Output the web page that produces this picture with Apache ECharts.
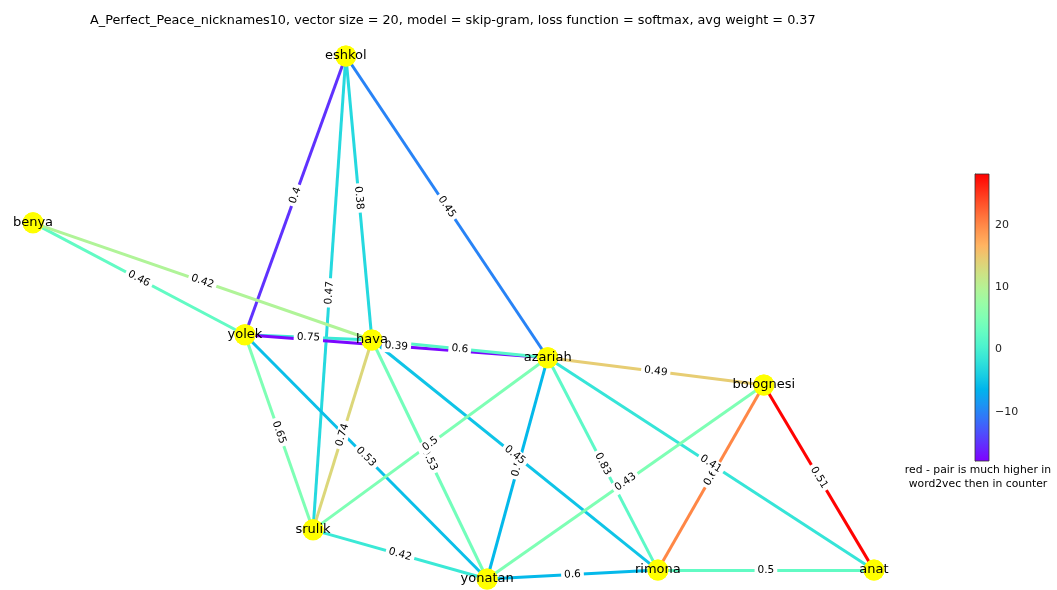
<!DOCTYPE html>
<html>
<head>
<meta charset="utf-8">
<script src="https://cdn.jsdelivr.net/npm/echarts@6/dist/echarts.min.js"></script>
<style>html,body{margin:0;padding:0;background:#fff;}#c{width:1057px;height:590px;}</style>
</head>
<body>
<div id="c"></div>
<script>
// ---- data ----
const nodeNames = ['eshkol','benya','yolek','hava','azariah','bolognesi','srulik','yonatan','rimona','anat'];
const nodeX = [0.372, 0.0, 0.252, 0.403, 0.612, 0.869, 0.333, 0.540, 0.743, 1.0];
const nodeY = [1.0, 0.681, 0.467, 0.457, 0.423, 0.371, 0.094, 0.0, 0.017, 0.017];

const edgeSource = ['eshkol','eshkol','eshkol','eshkol','benya','benya','yolek','yolek','yolek','yolek','hava','hava','azariah','hava','hava','bolognesi','azariah','azariah','azariah','azariah','bolognesi','bolognesi','srulik','yonatan','rimona'];
const edgeTarget = ['yolek','srulik','hava','azariah','yolek','hava','hava','azariah','srulik','yonatan','azariah','srulik','yonatan','yonatan','rimona','rimona','srulik','rimona','anat','bolognesi','yonatan','anat','yonatan','rimona','anat'];
const edgeWeight = ['0.4','0.47','0.38','0.45','0.46','0.42','0.75','0.39','0.65','0.53','0.6','0.74','0.5','0.53','0.45','0.6','0.5','0.83','0.41','0.49','0.43','0.51','0.42','0.6','0.5'];
const edgeDiff = [-15, -3, -3, -10, 2.5, 9.5, -1, -17.5, 5, -5.5, 1.5, 13.5, -6, 4, -5, 20, 5, 2, -1.5, 14.5, 5, 28, -1, -6, 2.5];

const colorMin = -17.9, colorMax = 28.2;
const colorTicks = [-10, 0, 10, 20];
const titleText = 'A_Perfect_Peace_nicknames10, vector size = 20, model = skip-gram, loss function = softmax, avg weight = 0.37';
const captionText = 'red - pair is much higher in\nword2vec then in counter';

// ---- colormap (matplotlib rainbow) ----
function rainbow(t){
  t = Math.max(0, Math.min(1, t));
  const c = v => Math.round(Math.max(0, Math.min(1, v)) * 255);
  return 'rgb(' + c(Math.abs(2*t-0.5)) + ',' + c(Math.sin(Math.PI*t)) + ',' + c(Math.cos(Math.PI*t/2)) + ')';
}
function valColor(v){ return rainbow((v - colorMin) / (colorMax - colorMin)); }

const nodes = nodeNames.map((n,i) => ({name: n, value: [nodeX[i], nodeY[i]]}));
const links = edgeSource.map((s,i) => ({
  source: s, target: edgeTarget[i], label: edgeWeight[i],
  lineStyle: {color: valColor(edgeDiff[i])}
}));

const gradStops = [];
for (let i = 0; i <= 20; i++) gradStops.push({offset: i/20, color: rainbow(1 - i/20)});

const chart = echarts.init(document.getElementById('c'), null, {renderer: 'canvas'});
chart.setOption({
  animation: false,
  backgroundColor: '#fff',
  textStyle: {fontFamily: 'DejaVu Sans'},
  title: [
    {text: titleText, left: 85, top: 9, textStyle: {fontSize: 12.8, fontWeight: 'normal', color: '#000', fontFamily: 'DejaVu Sans'}}
  ],
  graphic: [
    {type: 'text', x: 978, y: 463, silent: true,
     style: {text: captionText, align: 'center', verticalAlign: 'top', fontSize: 10.8, lineHeight: 14, fill: '#000', fontFamily: 'DejaVu Sans'}}
  ],
  grid: [
    {left: 33, right: 183, top: 56, bottom: 11},
    {left: 975, width: 14, top: 174, height: 287}
  ],
  xAxis: [
    {gridIndex: 0, type: 'value', min: 0, max: 1, show: false},
    {gridIndex: 1, type: 'value', min: 0, max: 1, show: false}
  ],
  yAxis: [
    {gridIndex: 0, type: 'value', min: 0, max: 1, show: false},
    {gridIndex: 1, type: 'value', min: colorMin, max: colorMax, position: 'right',
     axisLine: {show: true, lineStyle: {color: '#333', width: 0.8}},
     axisTick: {show: true, length: 4, customValues: colorTicks, lineStyle: {color: '#333'}},
     axisLabel: {show: true, customValues: colorTicks, fontSize: 11, color: '#222', margin: 6,
       formatter: v => (v < 0 ? '\u2212' + Math.abs(v) : String(v))},
     splitLine: {show: false}}
  ],
  series: [
    {
      type: 'custom', xAxisIndex: 1, yAxisIndex: 1, silent: true, z: 1,
      data: [[0, colorMin]],
      renderItem: function(params, api){
        const p1 = api.coord([0, colorMax]);
        const p2 = api.coord([1, colorMin]);
        return {type: 'rect', shape: {x: p1[0], y: p1[1], width: p2[0]-p1[0], height: p2[1]-p1[1]},
          style: {fill: new echarts.graphic.LinearGradient(0,0,0,1, gradStops), stroke: '#333', lineWidth: 0.8}};
      }
    },
    {
      type: 'graph', coordinateSystem: 'cartesian2d', xAxisIndex: 0, yAxisIndex: 0,
      silent: true, z: 2,
      symbol: 'circle', symbolSize: 21,
      itemStyle: {color: '#ffff00'},
      label: {show: false},
      lineStyle: {width: 3, opacity: 1},
      edgeLabel: {show: true, position: 'middle', distance: 0, verticalAlign: 'middle',
        formatter: p => p.data.label, fontSize: 10.5, color: '#000', fontFamily: 'DejaVu Sans',
        backgroundColor: '#fff', padding: [1, 3]},
      emphasis: {disabled: true},
      data: nodes,
      links: links
    },
    {
      type: 'scatter', xAxisIndex: 0, yAxisIndex: 0, silent: true, z: 5,
      symbol: 'circle', symbolSize: 21,
      itemStyle: {color: '#ffff00', opacity: 1},
      label: {show: true, position: 'inside', color: '#000', fontSize: 13, fontFamily: 'DejaVu Sans',
        formatter: p => p.name},
      emphasis: {disabled: true},
      data: nodeNames.map((n,i) => ({name: n, value: [nodeX[i], nodeY[i]]}))
    }
  ]
});
</script>
</body>
</html>
